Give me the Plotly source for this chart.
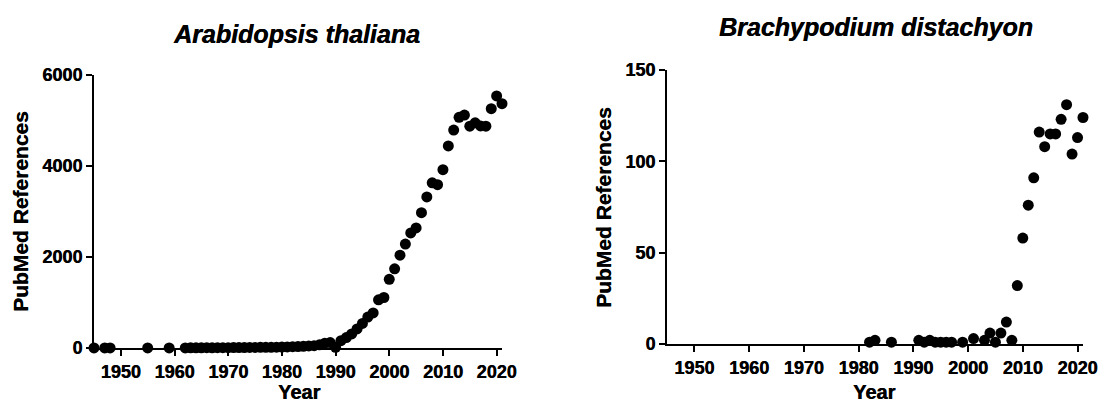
import plotly.graph_objects as go

# ---- Data ----
ara_years = [1945, 1947, 1948, 1955, 1959,
             1962, 1963, 1964, 1965, 1966, 1967, 1968, 1969, 1970, 1971, 1972, 1973, 1974,
             1975, 1976, 1977, 1978, 1979, 1980, 1981, 1982, 1983, 1984, 1985, 1986, 1987,
             1988, 1989, 1990, 1991, 1992, 1993, 1994, 1995, 1996, 1997, 1998, 1999, 2000,
             2001, 2002, 2003, 2004, 2005, 2006, 2007, 2008, 2009, 2010, 2011, 2012, 2013,
             2014, 2015, 2016, 2017, 2018, 2019, 2020, 2021]
ara_refs = [1, 1, 1, 1, 1,
            2, 3, 4, 5, 6, 5, 7, 8, 8, 9, 10, 11, 12,
            13, 14, 15, 16, 18, 20, 24, 28, 33, 37, 45, 52, 70,
            105, 120, 15, 160, 230, 310, 420, 540, 680, 770, 1060, 1110, 1510,
            1740, 2040, 2285, 2530, 2640, 2975, 3320, 3630, 3590, 3920, 4440, 4790, 5070,
            5120, 4875, 4950, 4880, 4875, 5260, 5540, 5370]

bra_years = [1982, 1983, 1986, 1991, 1992, 1993, 1994, 1995, 1996, 1997, 1999, 2001,
             2003, 2004, 2005, 2006, 2007, 2008, 2009, 2010, 2011, 2012, 2013, 2014,
             2015, 2016, 2017, 2018, 2019, 2020, 2021]
bra_refs = [1, 2, 1, 2, 1, 2, 1, 1, 1, 1, 1, 3,
            2, 6, 1, 6, 12, 2, 32, 58, 76, 91, 116, 108,
            115, 115, 123, 131, 104, 113, 124]

titles = ["Arabidopsis thaliana", "Brachypodium distachyon"]
x_ticks = [1950, 1960, 1970, 1980, 1990, 2000, 2010, 2020]
y_ticks_ara = [0, 2000, 4000, 6000]
y_ticks_bra = [0, 50, 100, 150]
x_label = "Year"
y_label = "PubMed References"

FONT = "Liberation Sans, Arial, sans-serif"
SHADOW = "0.45px 0px 0px black"
W, H = 1105, 405

fig = go.Figure()
fig.add_trace(go.Scatter(x=ara_years, y=ara_refs, mode="markers",
                         marker=dict(size=11, color="black", line=dict(width=0)),
                         cliponaxis=False, xaxis="x", yaxis="y", showlegend=False))
fig.add_trace(go.Scatter(x=bra_years, y=bra_refs, mode="markers",
                         marker=dict(size=11, color="black", line=dict(width=0)),
                         cliponaxis=False, xaxis="x2", yaxis="y2", showlegend=False))

def px_x(p):
    return p / W

def px_y(p):
    return (H - p) / H

tickfont = dict(family=FONT, size=18, color="black", weight="bold", shadow=SHADOW)
common_x = dict(range=[1945, 2021], tickvals=x_ticks, showline=True, linewidth=2,
                linecolor="black", ticks="outside", ticklen=6, tickwidth=2,
                tickcolor="black", showgrid=False, zeroline=False, tickfont=tickfont,
                fixedrange=True, automargin=False)
common_y = dict(showline=True, linewidth=2, linecolor="black", ticks="outside",
                ticklen=6, tickwidth=2, tickcolor="black", showgrid=False,
                zeroline=False, tickfont=tickfont, fixedrange=True, automargin=False)

fig.update_layout(
    template="none",
    width=W, height=H, autosize=False,
    margin=dict(l=0, r=0, t=0, b=0, pad=0),
    paper_bgcolor="white", plot_bgcolor="white",
    xaxis=dict(domain=[px_x(94), px_x(502)], anchor="y", **common_x),
    yaxis=dict(domain=[px_y(348), px_y(75)], anchor="x", range=[0, 6000],
               tickvals=y_ticks_ara, **common_y),
    xaxis2=dict(domain=[px_x(667), px_x(1083)], anchor="y2", **common_x),
    yaxis2=dict(domain=[px_y(344), px_y(70)], anchor="x2", range=[0, 150],
                tickvals=y_ticks_bra, **common_y),
)

ann = []
# subplot titles
ann.append(dict(text=titles[0], x=px_x(296), y=px_y(34), xref="paper", yref="paper",
                xanchor="center", yanchor="middle", showarrow=False,
                font=dict(family=FONT, size=25, color="black", weight="bold",
                          style="italic", shadow=SHADOW)))
ann.append(dict(text=titles[1], x=px_x(876), y=px_y(27), xref="paper", yref="paper",
                xanchor="center", yanchor="middle", showarrow=False,
                font=dict(family=FONT, size=25, color="black", weight="bold",
                          style="italic", shadow=SHADOW)))
# axis titles
for cx in (298.5, 874):
    ann.append(dict(text=x_label, x=px_x(cx), y=px_y(392), xref="paper", yref="paper",
                    xanchor="center", yanchor="middle", showarrow=False,
                    font=dict(family=FONT, size=20, color="black", weight="bold",
                              shadow=SHADOW)))
for cx, cy in ((20.5, 211.5), (604, 207)):
    ann.append(dict(text=y_label, x=px_x(cx), y=px_y(cy), xref="paper", yref="paper",
                    xanchor="center", yanchor="middle", showarrow=False, textangle=-90,
                    font=dict(family=FONT, size=21, color="black", weight="bold",
                              shadow=SHADOW)))
fig.update_layout(annotations=ann)

fig.write_html("out.html")
